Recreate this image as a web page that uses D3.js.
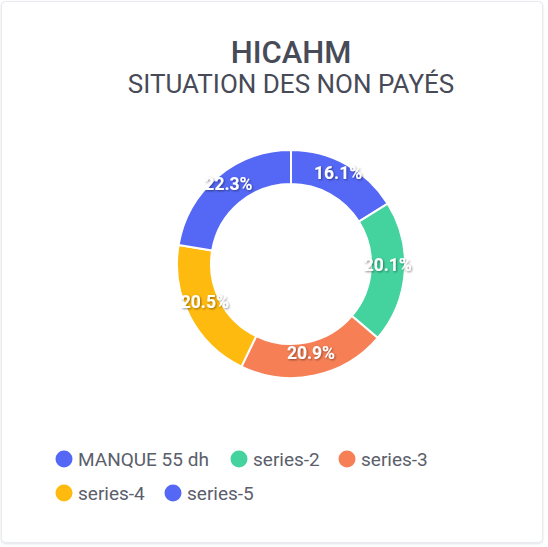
<!DOCTYPE html>
<html>
<head>
<meta charset="utf-8">
<script src="https://cdn.jsdelivr.net/npm/d3@7"></script>
<style>
	body { margin: 0; background: #fff; }
	svg { display: block; font-family: Roboto, "Noto Sans", sans-serif; }
</style>
</head>
<body>
<div id="chart"></div>
<script>
// chart data
const labels = ['MANQUE 55 dh', 'series-2', 'series-3', 'series-4', 'series-5'];
const values = [16.1, 20.1, 20.9, 20.5, 22.3];
const colors = ['#5468F5', '#44D39F', '#F67F56', '#FFBA0F', '#5468F5'];
const title = 'HICAHM';
const subtitle = 'SITUATION DES NON PAYÉS';

let width = 548,
	height = 547,
	cx = 291,
	cy = 264,
	outerR = 114,
	innerR = 80;

let svg = d3.select('#chart')
	.append('svg')
	.attr('width', width)
	.attr('height', height);

let defs = svg.append('defs');

// soft card shadow
let cardShadow = defs.append('filter').attr('id', 'cardShadow')
	.attr('x', '-5%').attr('y', '-5%').attr('width', '110%').attr('height', '110%');
cardShadow.append('feDropShadow')
	.attr('dx', 0).attr('dy', 1).attr('stdDeviation', 1)
	.attr('flood-color', '#a0a8b8').attr('flood-opacity', 0.35);

// shadow behind the percentage labels
let labelShadow = defs.append('filter').attr('id', 'labelShadow')
	.attr('x', '-20%').attr('y', '-40%').attr('width', '140%').attr('height', '180%');
labelShadow.append('feDropShadow')
	.attr('dx', 1).attr('dy', 1).attr('stdDeviation', 1)
	.attr('flood-color', '#000').attr('flood-opacity', 0.45);

// card
svg.append('rect')
	.attr('x', 1.5)
	.attr('y', 1.5)
	.attr('width', 541)
	.attr('height', 541)
	.attr('rx', 4)
	.attr('fill', '#fff')
	.attr('stroke', '#e8eaf0')
	.attr('filter', 'url(#cardShadow)');

// titles
svg.append('text')
	.attr('x', 291)
	.attr('y', 62.5)
	.attr('text-anchor', 'middle')
	.style('font-size', '31px')
	.style('font-weight', 500)
	.style('fill', '#474a57')
	.text(title);

svg.append('text')
	.attr('x', 291)
	.attr('y', 93)
	.attr('text-anchor', 'middle')
	.style('font-size', '26px')
	.style('fill', '#474a57')
	.text(subtitle);

// donut
let pie = d3.pie()
	.sort(null)
	.value(d => d);

let arcs = pie(values);

let arc = d3.arc()
	.innerRadius(innerR)
	.outerRadius(outerR);

let labelArc = d3.arc()
	.innerRadius((innerR + outerR) / 2)
	.outerRadius((innerR + outerR) / 2);

let donut = svg.append('g')
	.attr('transform', 'translate(' + cx + ',' + cy + ')');

donut.selectAll('path')
	.data(arcs)
	.enter()
	.append('path')
	.attr('d', arc)
	.attr('fill', (d, i) => colors[i])
	.attr('stroke', '#fff')
	.style('stroke-width', '2px');

let total = d3.sum(values);

donut.selectAll('text')
	.data(arcs)
	.enter()
	.append('text')
	.attr('transform', d => 'translate(' + labelArc.centroid(d) + ')')
	.attr('text-anchor', 'middle')
	.attr('filter', 'url(#labelShadow)')
	.style('font-size', '17.5px')
	.style('font-weight', 'bold')
	.style('fill', '#fff')
	.text(d => (d.value / total * 100).toFixed(1) + '%');

// legend, laid out in rows
let legendItems = [
	{ x: 64, y: 459 }, { x: 239, y: 459 }, { x: 347, y: 459 },
	{ x: 64, y: 493 }, { x: 173, y: 493 }
];

let legend = svg.append('g');

legend.selectAll('circle')
	.data(labels)
	.enter()
	.append('circle')
	.attr('cx', (d, i) => legendItems[i].x)
	.attr('cy', (d, i) => legendItems[i].y)
	.attr('r', 8.5)
	.style('fill', (d, i) => colors[i]);

legend.selectAll('text')
	.data(labels)
	.enter()
	.append('text')
	.attr('x', (d, i) => legendItems[i].x + 14)
	.attr('y', (d, i) => legendItems[i].y)
	.attr('dy', '0.35em')
	.style('font-size', '19px')
	.style('fill', '#5b5e6b')
	.text(d => d);
</script>
</body>
</html>
